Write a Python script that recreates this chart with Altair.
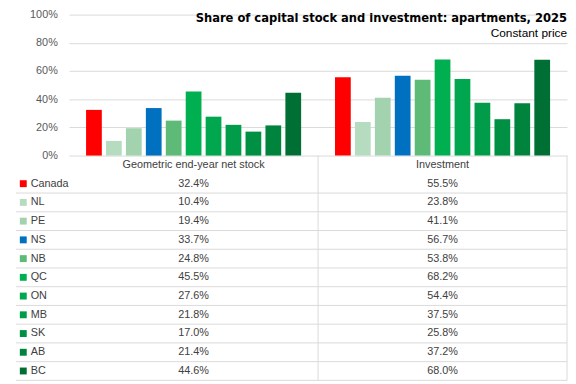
import altair as alt
import pandas as pd

provinces = ["Canada", "NL", "PE", "NS", "NB", "QC", "ON", "MB", "SK", "AB", "BC"]
groups = ["Geometric end-year net stock", "Investment"]
stock = [32.4, 10.4, 19.4, 33.7, 24.8, 45.5, 27.6, 21.8, 17.0, 21.4, 44.6]
invest = [55.5, 23.8, 41.1, 56.7, 53.8, 68.2, 54.4, 37.5, 25.8, 37.2, 68.0]
colors = ["#FF0000", "#B5DCBF", "#A2D3AE", "#0070C0", "#5EBA77", "#00B050",
          "#00A74E", "#009C49", "#009043", "#00843D", "#006F34"]
y_ticks = [0, 20, 40, 60, 80, 100]

rows = []
for g, vals in zip(groups, [stock, invest]):
    for p, v in zip(provinces, vals):
        rows.append({"group": g, "row": p, "value": v, "text": f"{v:.1f}%"})
df = pd.DataFrame(rows)

hdr = pd.DataFrame({"group": groups, "row": ["header"] * 2, "text": groups})
labels = pd.DataFrame({"row": provinces})

FONT = "Liberation Sans"
TXT = "#404040"
GRID = "#d9d9d9"

row_domain = ["header"] + provinces
row_scale = alt.Scale(domain=row_domain, range=[147, 375], paddingInner=0, paddingOuter=0)
x_scale = alt.Scale(domain=groups, paddingInner=0, paddingOuter=0)
color_scale = alt.Scale(domain=provinces, range=colors)

bars = alt.Chart(df).mark_bar().encode(
    x=alt.X("group:N", scale=x_scale, axis=None),
    xOffset=alt.XOffset("row:N", scale=alt.Scale(domain=provinces, paddingInner=0.21, paddingOuter=0.85)),
    y=alt.Y("value:Q", scale=alt.Scale(domain=[0, 100], range=[147, 4]),
            axis=alt.Axis(values=y_ticks, labelExpr="datum.value + '%'", grid=True,
                          gridColor=GRID, domain=False, ticks=False, labelPadding=12,
                          labelFontSize=11, labelColor="#595959", labelFont=FONT, title=None)),
    color=alt.Color("row:N", scale=color_scale, legend=None),
)

values_txt = alt.Chart(pd.concat([df, hdr])).mark_text(fontSize=11, font=FONT, color=TXT).encode(
    x=alt.X("group:N", scale=x_scale, axis=None),
    y=alt.Y("row:N", scale=row_scale, axis=None),
    text="text:N",
)

row_labels = alt.Chart(labels).mark_text(fontSize=11, font=FONT, color=TXT, align="left").encode(
    x=alt.value(-39),
    y=alt.Y("row:N", scale=row_scale, axis=None),
    text="row:N",
)

squares = alt.Chart(labels).mark_square(size=49, opacity=1).encode(
    x=alt.value(-46.5),
    y=alt.Y("row:N", scale=row_scale, axis=None),
    color=alt.Color("row:N", scale=color_scale, legend=None),
)

hrules = alt.Chart(labels).mark_rule(color=GRID, strokeWidth=1).encode(
    x=alt.value(-54),
    x2=alt.value(505),
    y=alt.Y("row:N", scale=row_scale, axis=None, bandPosition=1),
)

vrules = alt.Chart(pd.DataFrame({"group": groups})).mark_rule(color=GRID, strokeWidth=1).encode(
    x=alt.X("group:N", scale=x_scale, axis=None, bandPosition=1),
    y=alt.value(147),
    y2=alt.value(375),
)

chart = alt.layer(bars, hrules, vrules, squares, row_labels, values_txt).resolve_scale(
    y="independent"
).properties(
    width=505,
    height=376,
    autosize=alt.AutoSizeParams(type="none"),
    padding={"left": 62, "top": 0, "right": 1, "bottom": 0},
    title=alt.Title(
        "Share of capital stock and investment: apartments, 2025",
        subtitle="Constant price",
        anchor="end",
        frame="group",
        offset=-31,
        font="DejaVu Sans Condensed, Liberation Sans",
        fontSize=13,
        fontWeight="bold",
        color="#000000",
        subtitleFont=FONT,
        subtitleFontSize=12,
        subtitleColor="#000000",
        subtitlePadding=3,
    ),
).configure_view(stroke=None)

chart.save("out.html", embed_options={"renderer": "svg", "actions": False})
